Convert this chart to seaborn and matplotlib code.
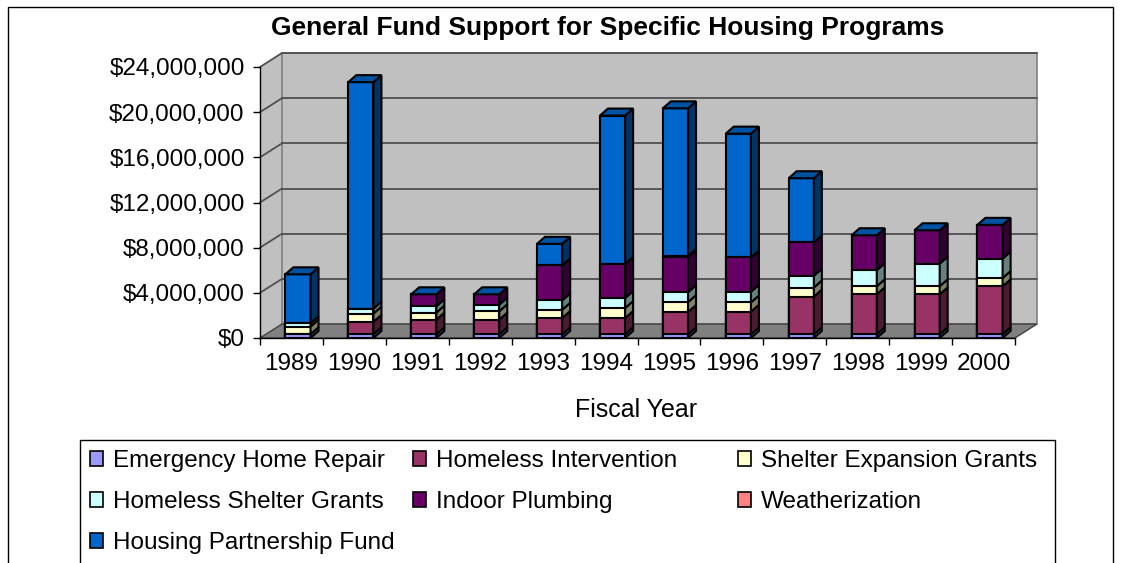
import numpy as np
import matplotlib
matplotlib.use("Agg")
import matplotlib.pyplot as plt
import matplotlib.colors as mcolors
from matplotlib.patches import Polygon, Patch, Rectangle
import seaborn as sns

# ---- data (US$) -------------------------------------------------------------
years = ["1989", "1990", "1991", "1992", "1993", "1994",
         "1995", "1996", "1997", "1998", "1999", "2000"]

emergency_home_repair = [330000, 330000, 330000, 330000, 330000, 330000,
                         330000, 330000, 330000, 330000, 330000, 330000]
homeless_intervention = [0, 1100000, 1300000, 1300000, 1440000, 1440000,
                         1970000, 2000000, 3340000, 3540000, 3540000, 4250000]
shelter_expansion = [680000, 730000, 620000, 740000, 730000, 880000,
                     880000, 820000, 800000, 710000, 710000, 730000]
homeless_shelter = [290000, 440000, 560000, 580000, 830000, 880000,
                    880000, 940000, 1040000, 1420000, 2000000, 1710000]
indoor_plumbing = [0, 0, 1060000, 920000, 3100000, 3040000,
                   3100000, 3040000, 2950000, 3100000, 2960000, 3000000]
weatherization = [0, 0, 0, 0, 0, 0, 100000, 0, 0, 0, 0, 0]
housing_partnership = [4340000, 20060000, 0, 0, 1910000, 13130000,
                       13080000, 10970000, 5690000, 0, 0, 0]

programs = ["Emergency Home Repair", "Homeless Intervention",
            "Shelter Expansion Grants", "Homeless Shelter Grants",
            "Indoor Plumbing", "Weatherization", "Housing Partnership Fund"]
series = [emergency_home_repair, homeless_intervention, shelter_expansion,
          homeless_shelter, indoor_plumbing, weatherization, housing_partnership]
colors = ["#9999FF", "#993366", "#FFFFCC", "#CCFFFF",
          "#660066", "#FF8080", "#0066CC"]

y_ticks = [0, 4000000, 8000000, 12000000, 16000000, 20000000, 24000000]


def shade(c, f):
    return tuple(np.clip(np.array(mcolors.to_rgb(c)) * f, 0, 1))


# ---- figure / axes ------------------------------------------------------------
sns.set_theme(style="white")
plt.rcParams["font.family"] = ["Liberation Sans", "DejaVu Sans"]
plt.rcParams["text.color"] = "black"
plt.rcParams["legend.labelcolor"] = "black"

W, H = 1122, 563
fig = plt.figure(figsize=(W / 100, H / 100), dpi=100)
fig.patch.set_facecolor("white")

ax_left, ax_right, ax_top, ax_bot = 260, 1015, 67, 338
ax = fig.add_axes([ax_left / W, (H - ax_bot) / H,
                   (ax_right - ax_left) / W, (ax_bot - ax_top) / H])
ax.set_facecolor("none")

n = len(years)
shift = 0.103                       # bars sit a little right of the slot centre
x0, x1 = -0.5 - shift, n - 0.5 - shift
ymax = y_ticks[-1]

px_x = (ax_right - ax_left) / n     # pixels per category
px_y = (ax_bot - ax_top) / ymax     # pixels per dollar

wall_dx, wall_dy = 22 / px_x, 14 / px_y      # depth of the chart box
bar_dx, bar_dy = 8 / px_x, 7 / px_y          # depth of each column
bar_w = 0.4

# ---- walls, floor, gridlines --------------------------------------------------
wall_col, floor_col, grid_col = "#C0C0C0", "#808080", "#505050"
ax.add_patch(Polygon([(x0, 0), (x0 + wall_dx, wall_dy), (x0 + wall_dx, ymax + wall_dy),
                      (x0, ymax)], closed=True, facecolor=wall_col, edgecolor="none",
                     zorder=0.1, clip_on=False))
ax.add_patch(Rectangle((x0 + wall_dx, wall_dy), x1 - x0, ymax, facecolor=wall_col,
                       edgecolor="#808080", linewidth=1.2, zorder=0.1, clip_on=False))
ax.add_patch(Polygon([(x0, 0), (x1, 0), (x1 + wall_dx, wall_dy), (x0 + wall_dx, wall_dy)],
                     closed=True, facecolor=floor_col, edgecolor="#404040",
                     linewidth=1.0, zorder=0.2, clip_on=False))
for v in y_ticks[1:]:
    ax.plot([x0 + wall_dx, x1 + wall_dx], [v + wall_dy, v + wall_dy],
            color=grid_col, lw=1.3, zorder=0.3, clip_on=False)
    ax.plot([x0, x0 + wall_dx], [v, v + wall_dy],
            color=grid_col, lw=1.3, zorder=0.3, clip_on=False)

# ---- stacked columns (front faces) ---------------------------------------------
cum = np.cumsum(np.array(series, dtype=float), axis=0)
for k in reversed(range(len(series))):
    sns.barplot(x=years, y=cum[k], color=colors[k], saturation=1, width=bar_w,
                edgecolor="black", linewidth=1.5, errorbar=None, ax=ax, zorder=3)

# ---- side faces and top caps for the 3-D look ------------------------------------
for i in range(n):
    xr = i + bar_w / 2
    xl = i - bar_w / 2
    for k in range(len(series)):
        lo = cum[k - 1][i] if k > 0 else 0.0
        hi = cum[k][i]
        if hi > lo:
            ax.add_patch(Polygon([(xr, lo), (xr + bar_dx, lo + bar_dy),
                                  (xr + bar_dx, hi + bar_dy), (xr, hi)],
                                 closed=True, facecolor=shade(colors[k], 0.5),
                                 edgecolor="black", linewidth=1.5, zorder=3,
                                 clip_on=False))
    top = cum[-1][i]
    ax.add_patch(Polygon([(xl, top), (xr, top), (xr + bar_dx, top + bar_dy),
                          (xl + bar_dx, top + bar_dy)], closed=True,
                         facecolor=shade(colors[-1], 0.8), edgecolor="black",
                         linewidth=1.5, zorder=3, clip_on=False))

# ---- axes styling -------------------------------------------------------------
ax.set_xlim(x0, x1)
ax.set_ylim(0, ymax)
for s in ["top", "right"]:
    ax.spines[s].set_visible(False)
for s in ["left", "bottom"]:
    ax.spines[s].set_color("black")
    ax.spines[s].set_linewidth(1.0)
    ax.spines[s].set_zorder(4)

ax.set_yticks(y_ticks)
ax.set_yticklabels(["${:,.0f}".format(v) for v in y_ticks])
ax.tick_params(axis="y", which="major", left=True, length=5, width=1,
               color="black", labelsize=17.5, pad=6, labelcolor="black")

ax.set_xticks(np.arange(n + 1) - 0.5 - shift)
ax.set_xticklabels([])
ax.set_xticks(np.arange(n) - shift, minor=True)
ax.set_xticklabels(years, minor=True)
ax.tick_params(axis="x", which="major", bottom=True, length=5, width=1, color="black")
ax.tick_params(axis="x", which="minor", bottom=True, length=0, labelsize=17.5,
               pad=11, labelcolor="black")
ax.set_xlabel("")
ax.set_ylabel("")
ax.grid(False)

fig.text(636 / W, 1 - 410 / H, "Fiscal Year", ha="center", va="center",
         fontsize=18, color="black")
fig.text(608 / W, 1 - 28 / H, "General Fund Support for Specific Housing Programs",
         ha="center", va="center", fontsize=19, fontweight="bold", color="black")

# ---- legend (three columns inside one frame) -------------------------------------
handles = [Patch(facecolor=c, edgecolor="black", linewidth=1.2) for c in colors]
columns = [[0, 3, 6], [1, 4], [2, 5]]
col_x = [90, 413, 738]
for idx, cx in zip(columns, col_x):
    fig.legend([handles[j] for j in idx], [programs[j] for j in idx],
               loc="upper left", bbox_to_anchor=(cx / W, 1 - 450 / H),
               frameon=False, fontsize=17.5, borderpad=0, borderaxespad=0,
               handlelength=0.55, handleheight=0.55, handletextpad=0.4,
               labelspacing=0.78, labelcolor="black")
fig.add_artist(Rectangle((80 / W, -0.2), (1055 - 80) / W, (1 - 440 / H) + 0.2,
                         transform=fig.transFigure, fill=False,
                         edgecolor="black", linewidth=1.0))

# outer chart border
fig.add_artist(Rectangle((8 / W, -0.2), (1113 - 8) / W, (1 - 7 / H) + 0.2,
                         transform=fig.transFigure, fill=False,
                         edgecolor="black", linewidth=1.0))

fig.savefig("out.png", dpi=100)
